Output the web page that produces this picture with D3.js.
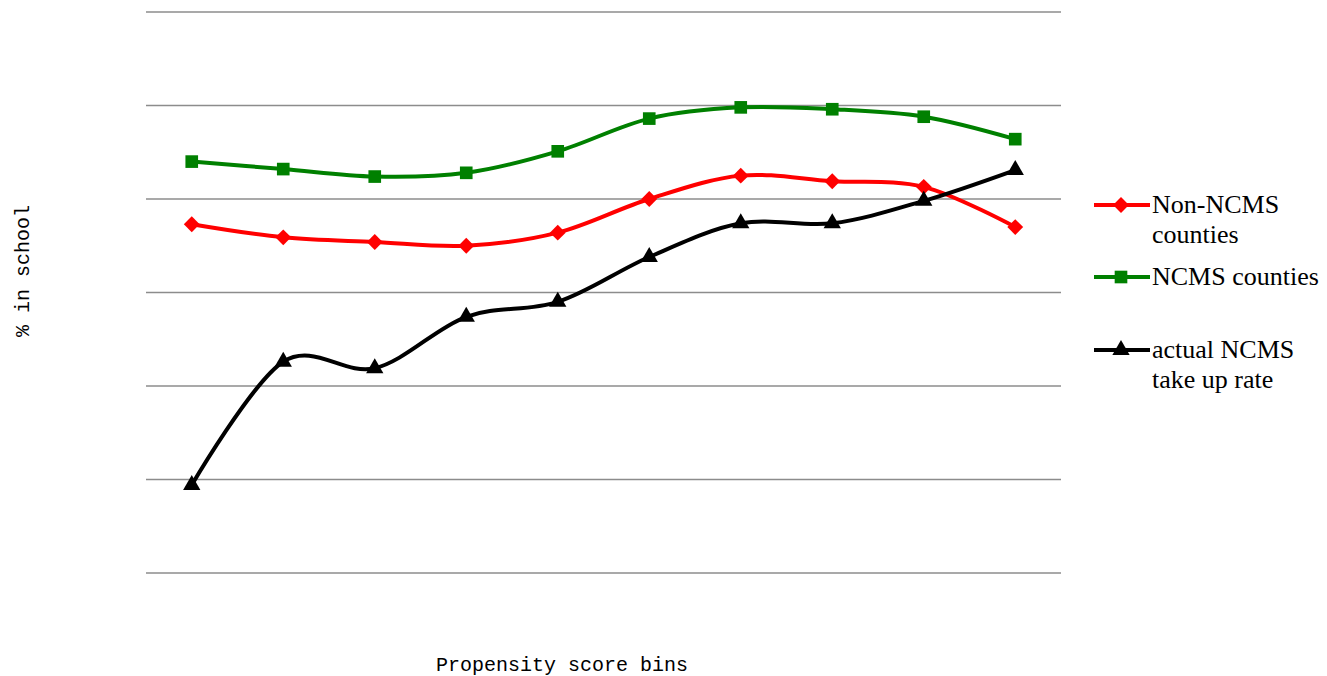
<!DOCTYPE html>
<html>
<head>
<meta charset="utf-8">
<script src="https://cdn.jsdelivr.net/npm/d3@7"></script>
<style>
  body { margin: 0; background: #fff; }
  svg { display: block; }
</style>
</head>
<body>
<div id="chart"></div>
<script>
let CHART_WIDTH = 1327;
let CHART_HEIGHT = 676;

// propensity score bins (no labels shown on the axis)
var bins = [1, 2, 3, 4, 5, 6, 7, 8, 9, 10];
var gridTicks = [0, 1, 2, 3, 4, 5, 6];

// values, in grid units
var nonNcms = [3.73, 3.59, 3.54, 3.50, 3.64, 4.00, 4.25, 4.19, 4.13, 3.70];
var ncms = [4.40, 4.32, 4.24, 4.28, 4.51, 4.86, 4.98, 4.96, 4.88, 4.64];
var takeUp = [0.94, 2.26, 2.19, 2.74, 2.90, 3.38, 3.74, 3.74, 3.98, 4.31];

var seriesNames = ["Non-NCMS counties", "NCMS counties", "actual NCMS take up rate"];
var legendLines = [["Non-NCMS", "counties"], ["NCMS counties"], ["actual NCMS", "take up rate"]];

var series = [
	{ name: seriesNames[0], values: nonNcms, color: "#ff0000", symbol: d3.symbolDiamond2, size: 160 },
	{ name: seriesNames[1], values: ncms, color: "#008000", symbol: d3.symbolSquare, size: 160 },
	{ name: seriesNames[2], values: takeUp, color: "#000000", symbol: d3.symbolTriangle, size: 130 }
];

var svg = d3.select("#chart").append("svg")
	.attr("width", CHART_WIDTH)
	.attr("height", CHART_HEIGHT);

var plot = { left: 146, right: 1061, top: 12, bottom: 573 };

var xScale = d3.scalePoint().domain(bins).range([plot.left, plot.right]).padding(0.5);
var yScale = d3.scaleLinear().domain([0, 6]).range([plot.bottom, plot.top]);

// gridlines
svg.append("g")
	.selectAll("line")
	.data(gridTicks)
	.enter().append("line")
	.attr("x1", plot.left)
	.attr("x2", plot.right)
	.attr("y1", d => yScale(d))
	.attr("y2", d => yScale(d))
	.attr("stroke", "#8c8c8c")
	.attr("stroke-width", 1.6);

var line = d3.line()
	.x((d, i) => xScale(bins[i]))
	.y(d => yScale(d))
	.curve(d3.curveCatmullRom.alpha(0));

series.forEach(function (s) {
	var g = svg.append("g");
	g.append("path")
		.attr("d", line(s.values))
		.attr("fill", "none")
		.attr("stroke", s.color)
		.attr("stroke-width", 4);
	g.selectAll("path.mark")
		.data(s.values)
		.enter().append("path")
		.attr("class", "mark")
		.attr("d", d3.symbol().type(s.symbol).size(s.size))
		.attr("transform", (d, i) => "translate(" + xScale(bins[i]) + "," + yScale(d) + ")")
		.attr("fill", s.color);
});

// legend
var legendY = [205, 277, 350];
series.forEach(function (s, i) {
	var g = svg.append("g").attr("transform", "translate(1094," + legendY[i] + ")");
	g.append("line")
		.attr("x1", 0).attr("x2", 56)
		.attr("stroke", s.color).attr("stroke-width", 4);
	g.append("path")
		.attr("d", d3.symbol().type(s.symbol).size(s.size))
		.attr("transform", "translate(27,0)")
		.attr("fill", s.color);
	var t = g.append("text")
		.attr("x", 58)
		.attr("y", 8)
		.attr("font-family", "'Liberation Serif', 'Times New Roman', serif")
		.attr("font-size", 26)
		.attr("fill", "#000");
	legendLines[i].forEach(function (txt, j) {
		t.append("tspan").attr("x", 58).attr("dy", j === 0 ? 0 : 30).text(txt);
	});
});

// axis titles
svg.append("text")
	.attr("x", 562)
	.attr("y", 671)
	.attr("text-anchor", "middle")
	.attr("font-family", "'Liberation Mono', 'DejaVu Sans Mono', monospace")
	.attr("font-size", 20)
	.text("Propensity score bins");

svg.append("text")
	.attr("transform", "translate(29,271) rotate(-90)")
	.attr("text-anchor", "middle")
	.attr("font-family", "'Liberation Mono', 'DejaVu Sans Mono', monospace")
	.attr("font-size", 20)
	.text("% in school");
</script>
</body>
</html>
